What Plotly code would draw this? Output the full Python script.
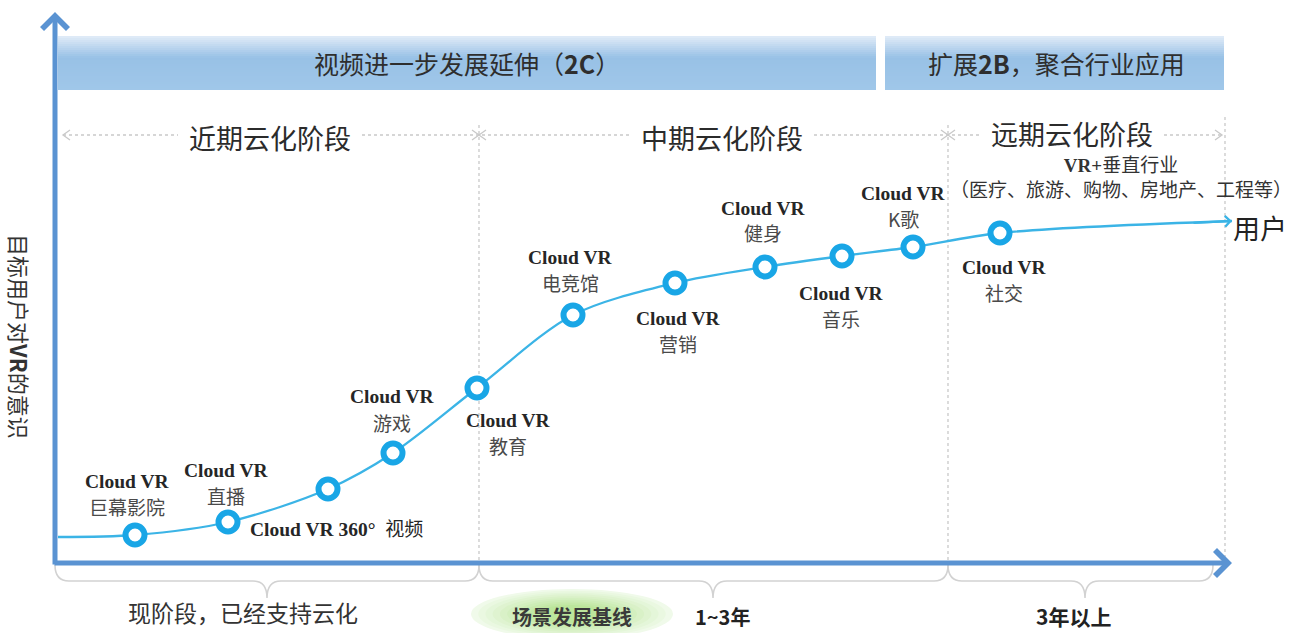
import plotly.graph_objects as go

W, H = 1294, 633
BASE = 563  # pixel row of the horizontal (time) axis

# ---------------- data ----------------
stage_names = ["巨幕影院", "直播", "360°", "游戏", "教育", "电竞馆", "营销", "健身", "音乐", "K歌", "社交"]
stage_time = [135, 228, 328, 393, 477, 573, 675, 765, 842, 913, 1000]
awareness = [28, 41, 74, 110, 175, 248, 280, 296, 307, 316, 330]
curve_start_time, curve_start_val = 58, 26
curve_end_time, curve_end_val = 1232, 342

phase_names = ["近期云化阶段", "中期云化阶段", "远期云化阶段"]
phase_bounds = [55, 479, 948, 1225]
banner_names = ["视频进一步发展延伸（<b>2C</b>）", "扩展<b>2B</b>，聚合行业应用"]
period_names = ["现阶段，已经支持云化", "<b>1~3年</b>", "<b>3年以上</b>"]
y_title = "目标用户对<b>VR</b>的意识"
end_label = "用户"

# ---------------- layout helpers (pixel -> axis units) ----------------
def Y(py):
    return BASE - py

CJK = "Noto Sans CJK SC"
SERIF = "Liberation Serif"
CURVE_C = "#3BB4E6"
RING_C = "#19A6E6"
AXIS_C = "#5A93D2"
GRID_C = "#C9C9C9"

fig = go.Figure()

def lerp(a, b, t):
    return tuple(int(round(a[i] + (b[i] - a[i]) * t)) for i in range(3))

# banners with vertical gradient
banner_boxes = [(58, 876), (885, 1224)]
top_y, bot_y = 36, 90
n = 27
for (x0, x1) in banner_boxes:
    for i in range(n):
        ya = top_y + (bot_y - top_y) * i / n
        yb = top_y + (bot_y - top_y) * (i + 1) / n
        t = i / (n - 1)
        if t < 0.4:
            c = lerp((222, 234, 247), (152, 193, 230), t / 0.4)
        else:
            c = lerp((152, 193, 230), (160, 199, 233), (t - 0.4) / 0.6)
        fig.add_shape(type="rect", x0=x0, x1=x1, y0=Y(ya), y1=Y(yb) - 0.01,
                      line=dict(width=0), fillcolor="rgb(%d,%d,%d)" % c, layer="below")

# green ellipse (radial gradient)
ecx, ecy = 572, 614
for k in range(14):
    f = 1 - k / 14
    c = lerp((240, 250, 234), (188, 230, 156), min(1, k / 9))
    rx, ry = 101 * f, 25 * f
    fig.add_shape(type="circle", x0=ecx - rx, x1=ecx + rx, y0=Y(ecy + ry), y1=Y(ecy - ry),
                  line=dict(width=0), fillcolor="rgb(%d,%d,%d)" % c, layer="below")

# vertical dotted separators
for xb, ytop in [(phase_bounds[1], 125), (phase_bounds[2], 125), (phase_bounds[3], 117)]:
    fig.add_shape(type="line", x0=xb, x1=xb, y0=Y(ytop), y1=Y(BASE), layer="below",
                  line=dict(color=GRID_C, width=1.3, dash="dot"))

# horizontal phase dotted line, interrupted around the phase titles
py = 135
phase_centers = [270, 722, 1072]
phase_rows = [137, 137, 133]
half_gap = 92
xs = [phase_bounds[0] + 8]
for xc in phase_centers:
    xs += [xc - half_gap, xc + half_gap]
xs.append(phase_bounds[3] - 3)
for i in range(0, len(xs), 2):
    fig.add_shape(type="line", x0=xs[i], x1=xs[i + 1], y0=Y(py), y1=Y(py),
                  layer="below", line=dict(color=GRID_C, width=1.3, dash="dot"))

def chev(xt, d):
    return "M %f,%f L %f,%f L %f,%f" % (xt - d * 7, Y(py - 5), xt, Y(py), xt - d * 7, Y(py + 5))
marks = [chev(phase_bounds[0] + 8, -1), chev(phase_bounds[1], 1), chev(phase_bounds[1], -1),
         chev(phase_bounds[2], 1), chev(phase_bounds[2], -1), chev(phase_bounds[3] - 3, 1)]
for m in marks:
    fig.add_shape(type="path", path=m, layer="below", line=dict(color=GRID_C, width=1.3))

# braces under the time axis
def brace(x0, x1, xc, y0=565, ym=581, yt=598, r=14):
    return ("M %f,%f Q %f,%f %f,%f L %f,%f Q %f,%f %f,%f Q %f,%f %f,%f L %f,%f Q %f,%f %f,%f" % (
        x0, Y(y0), x0, Y(ym), x0 + r, Y(ym), xc - r, Y(ym), xc, Y(ym), xc, Y(yt),
        xc, Y(ym), xc + r, Y(ym), x1 - r, Y(ym), x1, Y(ym), x1, Y(y0)))
brace_specs = [(55, 479, 267), (479, 948, 713), (948, 1213, 1085)]
for (a, b, c) in brace_specs:
    fig.add_shape(type="path", path=brace(a, b, c), layer="below",
                  line=dict(color="#D2D2D2", width=1.6))

# curve
cx = [curve_start_time] + stage_time + [curve_end_time]
cy = [curve_start_val] + awareness + [curve_end_val]
fig.add_trace(go.Scatter(x=cx, y=cy, mode="lines",
                         line=dict(color=CURVE_C, width=2.3, shape="spline", smoothing=0.9),
                         hoverinfo="skip", showlegend=False))
fig.add_trace(go.Scatter(x=stage_time, y=awareness, mode="markers",
                         marker=dict(size=19, color="white", line=dict(color=RING_C, width=6)),
                         text=stage_names, hoverinfo="text", showlegend=False))

# axes arrows
fig.add_annotation(x=55, y=Y(12), ax=55, ay=Y(566), xref="x", yref="y", axref="x", ayref="y",
                   text="", showarrow=True, arrowhead=4, arrowsize=1.0, arrowwidth=5, arrowcolor=AXIS_C)
fig.add_annotation(x=1232, y=Y(BASE), ax=53, ay=Y(BASE), xref="x", yref="y", axref="x", ayref="y",
                   text="", showarrow=True, arrowhead=4, arrowsize=1.0, arrowwidth=5, arrowcolor=AXIS_C)
# curve arrow
fig.add_annotation(x=curve_end_time, y=curve_end_val, ax=curve_end_time - 40, ay=curve_end_val - 2,
                   xref="x", yref="y", axref="x", ayref="y", text="", showarrow=True,
                   arrowhead=4, arrowsize=0.9, arrowwidth=2.3, arrowcolor=CURVE_C)

# stage labels: (dx, dy_top, dy_bottom) in pixels relative to the point
label_offsets = [(-8, -54, -29), (-2, -52, -27), None, (-1, -57, -31), (31, 32, 57),
                 (-3, -58, -33), (3, 35, 60), (-2, -59, -35), (-1, 37, 62), (-10, -54, -29), (4, 34, 59)]
for name, xt, v, off in zip(stage_names, stage_time, awareness, label_offsets):
    if off is None:
        fig.add_annotation(x=xt, y=v, xshift=-80, yshift=-38, xanchor="left", yanchor="middle",
                           text='<b>Cloud VR 360°</b>  <span style="font-family:%s;font-size:19px">视频</span>' % CJK,
                           showarrow=False, font=dict(family=SERIF, size=19.5, color="#262626"))
        continue
    dx, d1, d2 = off
    fig.add_annotation(x=xt, y=v, xshift=dx, yshift=-d1, text="<b>Cloud VR</b>", showarrow=False,
                       font=dict(family=SERIF, size=19.5, color="#262626"), xanchor="center", yanchor="middle")
    fig.add_annotation(x=xt, y=v, xshift=dx, yshift=-d2, text=name, showarrow=False,
                       font=dict(family=CJK, size=19, color="#4a4a4a"), xanchor="center", yanchor="middle")

# vertical-industry note (two lines)
fig.add_annotation(x=1121, y=Y(176),
                   text='<b><span style="font-family:%s">VR+</span></b>垂直行业<br>（医疗、旅游、购物、房地产、工程等）' % SERIF,
                   showarrow=False, font=dict(family=CJK, size=19, color="#333333"))

# end label
fig.add_annotation(x=1260, y=Y(227), text=end_label, showarrow=False,
                   font=dict(family=CJK, size=27, color="#222222"))

# banners text
for (x0, x1), t in zip(banner_boxes, banner_names):
    fig.add_annotation(x=(x0 + x1) / 2 + (2 if x0 > 100 else 0), y=Y(63), text=t, showarrow=False,
                       font=dict(family=CJK, size=25, color="#2e2e2e"))

# phase titles
for t, xc, yr in zip(phase_names, phase_centers, phase_rows):
    fig.add_annotation(x=xc, y=Y(yr), text=t, showarrow=False,
                       font=dict(family=CJK, size=27, color="#2b2b2b"))

# period labels
fig.add_annotation(x=243, y=Y(612), text=period_names[0], showarrow=False,
                   font=dict(family=CJK, size=23, color="#333333"))
fig.add_annotation(x=572, y=Y(616), text="<b>场景发展基线</b>", showarrow=False,
                   font=dict(family=CJK, size=20, color="#3a3a3a"))
fig.add_annotation(x=722, y=Y(616), text=period_names[1], showarrow=False,
                   font=dict(family=CJK, size=20, color="#222222"))
fig.add_annotation(x=1073, y=Y(616), text=period_names[2], showarrow=False,
                   font=dict(family=CJK, size=21, color="#222222"))

# y title
fig.add_annotation(x=20, y=Y(336), text=y_title, textangle=90, showarrow=False,
                   font=dict(family=CJK, size=22, color="#333333"))

fig.update_layout(
    width=W, height=H, margin=dict(l=0, r=0, t=0, b=0),
    paper_bgcolor="white", plot_bgcolor="white",
    xaxis=dict(range=[0, W], visible=False, fixedrange=True),
    yaxis=dict(range=[Y(H), Y(0)], visible=False, fixedrange=True),
    showlegend=False,
)
fig.write_html("out.html")
